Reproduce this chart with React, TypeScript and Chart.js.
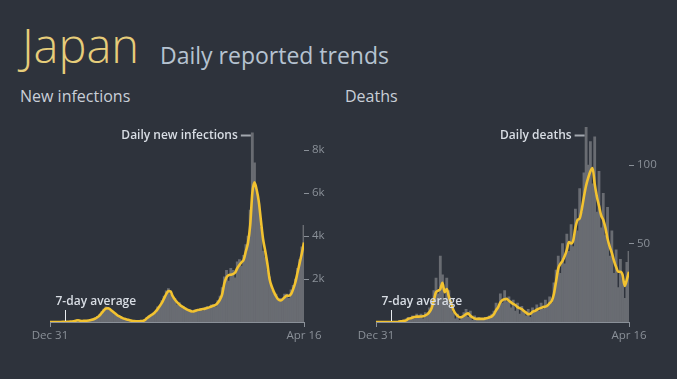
import React, { useEffect, useRef } from "react";
import { Chart, registerables } from "chart.js";
Chart.register(...registerables);

// Days since Dec 31 (sampled every STEP_DAYS days)
const STEP_DAYS = 4;
const LAST_DAY = 472;
const xTickDays = [0, 472];
const xTickLabels = ["Dec 31", "Apr 16"];

const infectionsDaily = [
  0, 0, 0, 0, 1, 3, 8, 12, 15, 20,
  20, 40, 90, 70, 40, 45, 60, 50, 70, 110,
  160, 200, 260, 350, 470, 600, 700, 620, 560, 480,
  400, 330, 250, 210, 160, 120, 90, 60, 45, 35,
  30, 35, 45, 55, 90, 200, 270, 300, 420, 500,
  700, 700, 1000, 1200, 1450, 1550, 1300, 1100, 1100, 800,
  900, 650, 720, 600, 500, 580, 420, 560, 580, 480,
  640, 520, 680, 720, 620, 800, 820, 700, 1000, 1200,
  1600, 2100, 2400, 1900, 2500, 2400, 2050, 2800, 2900, 2600,
  3100, 3600, 4000, 5200, 8800, 7400, 6000, 5500, 4400, 3300,
  3000, 2400, 2100, 1500, 1300, 1300, 1000, 1100, 1000, 1300,
  1300, 1100, 1500, 1700, 2000, 2500, 2900, 3500, 4500,
];

const infectionsAvg = [
  0, 0, 0, 0, 0, 2, 5, 10, 12, 15,
  20, 30, 60, 80, 60, 50, 55, 60, 70, 90,
  120, 160, 220, 300, 420, 540, 630, 640, 580, 500,
  420, 340, 270, 220, 170, 140, 110, 80, 55, 40,
  35, 35, 40, 45, 90, 170, 250, 320, 380, 480,
  600, 740, 900, 1100, 1300, 1440, 1420, 1200, 1050, 930,
  830, 740, 680, 620, 560, 520, 490, 500, 540, 560,
  580, 600, 620, 650, 680, 720, 760, 800, 900, 1050,
  1300, 1800, 2080, 2180, 2200, 2230, 2300, 2500, 2650, 2780,
  2900, 3300, 3700, 4500, 6000, 6500, 6150, 5600, 4700, 3850,
  3300, 2700, 2000, 1650, 1400, 1200, 1050, 1000, 1050, 1150,
  1230, 1220, 1300, 1540, 1850, 2300, 2750, 3200, 3700,
];

const deathsDaily = [
  0, 0, 0, 0, 0, 0, 0, 0, 0, 0,
  0, 1, 0, 1, 2, 3, 1, 4, 2, 5,
  3, 5, 2, 6, 4, 9, 13, 20, 28, 18,
  42, 30, 15, 28, 20, 9, 6, 2, 5, 1,
  3, 6, 8, 3, 7, 1, 4, 1, 3, 2,
  1, 3, 2, 4, 5, 7, 12, 9, 18, 12,
  20, 13, 16, 9, 14, 7, 12, 5, 10, 7,
  4, 8, 3, 9, 6, 11, 7, 12, 8, 14,
  11, 16, 12, 25, 33, 42, 31, 50, 37, 56,
  45, 62, 48, 72, 58, 85, 70, 95, 124, 100,
  115, 88, 118, 70, 96, 60, 82, 55, 73, 42,
  58, 31, 46, 22, 40, 27, 15, 38, 45,
];

const deathsAvg = [
  0, 0, 0, 0, 0, 0, 0, 0, 0, 0,
  0, 0.3, 0.5, 0.7, 1.0, 2.0, 2.3, 2.8, 3.2, 3.4,
  3.4, 3.5, 3.6, 4.2, 5.0, 6.5, 9.0, 14, 19, 20,
  21, 25, 19, 21, 16, 12, 8, 5.5, 4, 3,
  3.2, 4, 5, 5.5, 4, 3, 2.2, 2, 2, 2,
  2, 2.2, 2.5, 3, 3.6, 5, 7.5, 9.5, 12.5, 14,
  14.5, 14.7, 13.5, 12.5, 11.5, 10.8, 9.5, 8.8, 8.2, 7,
  6, 5, 5.2, 6.5, 7, 7.8, 8.5, 9, 9.5, 9.8,
  10.5, 12, 13.5, 18, 26, 34, 37, 39, 42, 46,
  51, 50, 52, 60, 65, 66, 72, 80, 87, 92,
  96, 98, 88, 80, 74, 68, 65, 60, 53, 48,
  44, 39, 35, 32, 32, 30, 23, 27, 32,
];

const infectionTicks = [2000, 4000, 6000, 8000];
const deathTicks = [50, 100];

const BG = "#2e333c";
const BAR = "#696c72";
const LINE = "#f2c230";
const AXIS = "#8a9098";

const annotPlugin = {
  id: "annot",
  afterDatasetsDraw(chart: any, _args: any, opts: any) {
    const { ctx } = chart;
    const xs = chart.scales.x;
    const ys = chart.scales.y;
    ctx.save();
    ctx.font = "600 12px 'Open Sans'";
    // 7-day average marker
    const ax = Math.round(xs.getPixelForValue(opts.avgDay)) + 0.5;
    const base = ys.getPixelForValue(0);
    ctx.strokeStyle = "#e9ecf0";
    ctx.lineWidth = 1;
    ctx.beginPath();
    ctx.moveTo(ax, base - 12);
    ctx.lineTo(ax, base - 1);
    ctx.stroke();
    ctx.fillStyle = "#d8dde4";
    ctx.textAlign = "left";
    ctx.textBaseline = "alphabetic";
    ctx.fillText(opts.avgLabel, ax - 10, base - 17);
    // daily marker
    const px = xs.getPixelForValue(opts.peakDay) - 1.5;
    const py = 35.5;
    ctx.strokeStyle = "#a3a8af";
    ctx.lineWidth = 2;
    ctx.beginPath();
    ctx.moveTo(px - 10, py);
    ctx.lineTo(px, py);
    ctx.stroke();
    ctx.textAlign = "right";
    ctx.textBaseline = "middle";
    ctx.fillText(opts.dailyLabel, px - 13, py);
    ctx.restore();
  },
};

function Panel(props: {
  daily: number[];
  avg: number[];
  yMax: number;
  yTicks: number[];
  fmt: (v: number) => string;
  padLeft: number;
  padTop: number;
  yWidth: number;
  width: number;
  height: number;
  left: number;
  top: number;
  avgDay: number;
  peakDay: number;
  dailyLabel: string;
}) {
  const ref = useRef<HTMLCanvasElement>(null);
  useEffect(() => {
    if (!ref.current) return;
    const days = props.daily.map((_, i) => i * STEP_DAYS);
    const chart = new Chart(ref.current, {
      type: "bar",
      data: {
        datasets: [
          {
            type: "line",
            data: props.avg.map((v, i) => ({ x: days[i], y: v })),
            borderColor: LINE,
            borderWidth: 2.6,
            pointRadius: 0,
            tension: 0.3,
            cubicInterpolationMode: "monotone",
            order: 0,
          } as any,
          {
            type: "bar",
            data: props.daily.map((v, i) => ({ x: days[i], y: v })),
            backgroundColor: BAR,
            borderWidth: 0,
            barPercentage: 1,
            categoryPercentage: 1,
            order: 1,
          } as any,
        ],
      },
      options: {
        animation: false,
        responsive: false,
        maintainAspectRatio: false,
        layout: { padding: { left: props.padLeft, top: props.padTop, right: 0, bottom: 0 } },
        plugins: {
          legend: { display: false },
          tooltip: { enabled: false },
          annot: {
            avgDay: props.avgDay,
            avgLabel: "7-day average",
            peakDay: props.peakDay,
            dailyLabel: props.dailyLabel,
          },
        } as any,
        scales: {
          x: {
            type: "linear",
            min: 0,
            max: LAST_DAY,
            offset: false,
            afterBuildTicks: (s: any) => {
              s.ticks = xTickDays.map((v) => ({ value: v }));
            },
            afterFit: (s: any) => {
              s.height = 28;
            },
            ticks: {
              autoSkip: false,
              maxRotation: 0,
              padding: 2,
              color: AXIS,
              font: { family: "'Open Sans'", size: 11.5 },
              callback: (v: any) => xTickLabels[xTickDays.indexOf(Number(v))],
            },
            grid: { drawOnChartArea: false, drawTicks: true, tickLength: 5, color: AXIS, offset: false },
            border: { display: true, color: AXIS, width: 1 },
          },
          y: {
            type: "linear",
            position: "right",
            min: 0,
            max: props.yMax,
            afterBuildTicks: (s: any) => {
              s.ticks = props.yTicks.map((v) => ({ value: v }));
            },
            afterFit: (s: any) => {
              s.width = props.yWidth;
            },
            ticks: {
              padding: 3,
              color: AXIS,
              font: { family: "'Open Sans'", size: 11.5 },
              callback: (v: any) => props.fmt(Number(v)),
            },
            grid: { drawOnChartArea: false, drawTicks: true, tickLength: 5, color: AXIS },
            border: { display: false },
          },
        },
      } as any,
      plugins: [annotPlugin],
    });
    return () => chart.destroy();
  }, []);
  return (
    <canvas
      ref={ref}
      width={props.width}
      height={props.height}
      style={{ position: "absolute", left: props.left, top: props.top, width: props.width, height: props.height }}
    />
  );
}

export default function App() {
  return (
    <div
      style={{
        position: "absolute",
        left: 0,
        top: 0,
        width: 677,
        height: 379,
        background: BG,
        overflow: "hidden",
        fontFamily: "'Open Sans', sans-serif",
      }}
    >
      <div style={{ position: "absolute", left: 22, top: 22, fontSize: 47, lineHeight: 1, fontWeight: 300, color: "#e6cd7a" }}>
        Japan
      </div>
      <div style={{ position: "absolute", left: 160, top: 43.5, fontSize: 23, lineHeight: 1, fontWeight: 400, color: "#b6c3d1" }}>
        Daily reported trends
      </div>
      <div style={{ position: "absolute", left: 20, top: 87.5, fontSize: 16, lineHeight: 1, color: "#c9cfd8" }}>
        New infections
      </div>
      <div style={{ position: "absolute", left: 345, top: 87.5, fontSize: 16, lineHeight: 1, color: "#c9cfd8" }}>
        Deaths
      </div>
      <Panel
        daily={infectionsDaily}
        avg={infectionsAvg}
        yMax={9000}
        yTicks={infectionTicks}
        fmt={(v) => v / 1000 + "k"}
        padLeft={50}
        padTop={28.5}
        yWidth={34}
        width={338}
        height={250}
        left={0}
        top={100}
        avgDay={28}
        peakDay={376}
        dailyLabel="Daily new infections"
      />
      <Panel
        daily={deathsDaily}
        avg={deathsAvg}
        yMax={126}
        yTicks={deathTicks}
        fmt={(v) => String(v)}
        padLeft={36}
        padTop={24.2}
        yWidth={31}
        width={320}
        height={250}
        left={340}
        top={100}
        avgDay={28}
        peakDay={392}
        dailyLabel="Daily deaths"
      />
    </div>
  );
}
